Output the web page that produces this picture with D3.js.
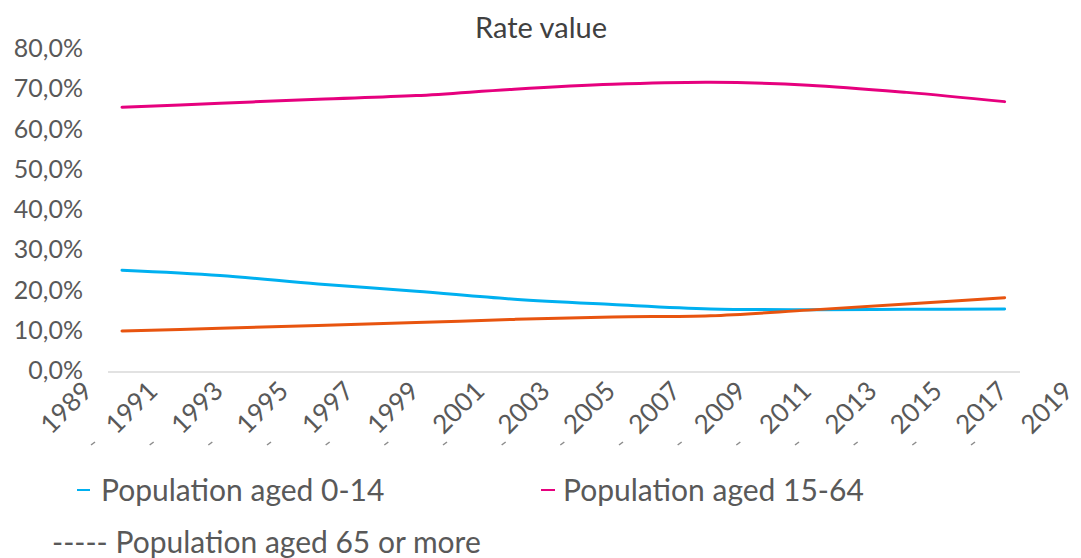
<!DOCTYPE html>
<html>
<head>
<meta charset="utf-8">
<script src="https://cdn.jsdelivr.net/npm/d3@7"></script>
<style>
  html, body { margin: 0; padding: 0; background: #fff; }
  svg { display: block; font-family: Lato, "Open Sans", sans-serif; }
</style>
</head>
<body>
<svg id="chart" width="1081" height="558"></svg>
<script>
// Share of the population by age group (%)
const years = [1990, 1993, 1996, 1999, 2002, 2005, 2008, 2011, 2014, 2017];
const aged0to14 = [24.9, 23.6, 21.5, 19.7, 17.7, 16.4, 15.3, 15.1, 15.2, 15.3];
const aged15to64 = [65.4, 66.4, 67.4, 68.3, 69.9, 71.1, 71.6, 70.9, 69.1, 66.8];
const aged65plus = [9.8, 10.5, 11.2, 11.9, 12.7, 13.3, 13.6, 15.0, 16.5, 18.1];

const xTickYears = d3.range(1989, 2020, 2);
const yTicks = [0, 10, 20, 30, 40, 50, 60, 70, 80];

const seriesNames = ["Population aged 0-14", "Population aged 15-64", "Population aged 65 or more"];
const seriesColors = ["#00B0F0", "#E6007E", "#E8540F"];

const svg = d3.select("#chart");
const textColor = "#595959";

const x = d3.scaleLinear().domain([1989, 2019]).range([89.3, 1070]);
const y = d3.scaleLinear().domain([0, 80]).range([370.5, 48.5]);

// Title
svg.append("text")
  .attr("x", 541).attr("y", 38)
  .attr("text-anchor", "middle")
  .attr("font-size", 29)
  .attr("fill", "#404040")
  .text("Rate value");

// Y axis labels (no axis line, no gridlines)
const yAxis = d3.axisLeft(y)
  .tickValues(yTicks)
  .tickSize(0)
  .tickPadding(0)
  .tickFormat(d => d3.format(".1f")(d).replace(".", ",") + "%");
const gy = svg.append("g").attr("transform", "translate(83,0)").call(yAxis);
gy.select(".domain").remove();
gy.selectAll("text")
  .attr("font-size", 25)
  .attr("font-family", "Lato, 'Open Sans', sans-serif")
  .attr("fill", textColor);

// Category baseline
const plotLeft = 108, plotRight = 1020;
svg.append("line")
  .attr("x1", plotLeft).attr("x2", plotRight)
  .attr("y1", y(0) + 1.5).attr("y2", y(0) + 1.5)
  .attr("stroke", "#D9D9D9").attr("stroke-width", 1.5);

// X axis labels, rotated
const xAxis = d3.axisBottom(x)
  .tickValues(xTickYears)
  .tickSize(0)
  .tickPadding(0)
  .tickFormat(d3.format("d"));
const gx = svg.append("g").attr("transform", `translate(0,${y(0)})`).call(xAxis);
gx.select(".domain").remove();
gx.selectAll("text")
  .attr("font-size", 26)
  .attr("font-family", "Lato, 'Open Sans', sans-serif")
  .attr("fill", textColor)
  .attr("text-anchor", "end")
  .attr("dy", 0)
  .attr("transform", "translate(4,22) rotate(-45)");

// Small slanted marks beneath the labels
const markIdx = d3.range(16);
const mx = d3.scaleLinear().domain([0, 15]).range([93, 973]);
svg.append("g").selectAll("line")
  .data(markIdx)
  .join("line")
  .attr("x1", d => mx(d) - 2).attr("y1", 445)
  .attr("x2", d => mx(d) + 2).attr("y2", 442)
  .attr("stroke", "#8C8C8C").attr("stroke-width", 1.5);

// Lines
const allSeries = [aged0to14, aged15to64, aged65plus];
const line = d3.line()
  .x((d, i) => x(years[i]))
  .y(d => y(d))
  .curve(d3.curveCatmullRom.alpha(0.5));

svg.append("g").selectAll("path")
  .data(allSeries)
  .join("path")
  .attr("d", d => line(d))
  .attr("fill", "none")
  .attr("stroke", (d, i) => seriesColors[i])
  .attr("stroke-width", 3)
  .attr("stroke-linecap", "round")
  .attr("stroke-linejoin", "round");

// Legend
const legend = svg.append("g").attr("font-size", 30).attr("fill", textColor);
const row1 = 490;
legend.append("line").attr("x1", 77).attr("x2", 90).attr("y1", row1).attr("y2", row1)
  .attr("stroke", seriesColors[0]).attr("stroke-width", 2);
legend.append("text").attr("x", 101).attr("y", row1).attr("dy", "0.35em").text(seriesNames[0]);
legend.append("line").attr("x1", 541).attr("x2", 555).attr("y1", row1).attr("y2", row1)
  .attr("stroke", seriesColors[1]).attr("stroke-width", 2);
legend.append("text").attr("x", 563).attr("y", row1).attr("dy", "0.35em").text(seriesNames[1]);
legend.append("text").attr("x", 52).attr("y", 542).attr("dy", "0.35em")
  .text("----- " + seriesNames[2]);
</script>
</body>
</html>
